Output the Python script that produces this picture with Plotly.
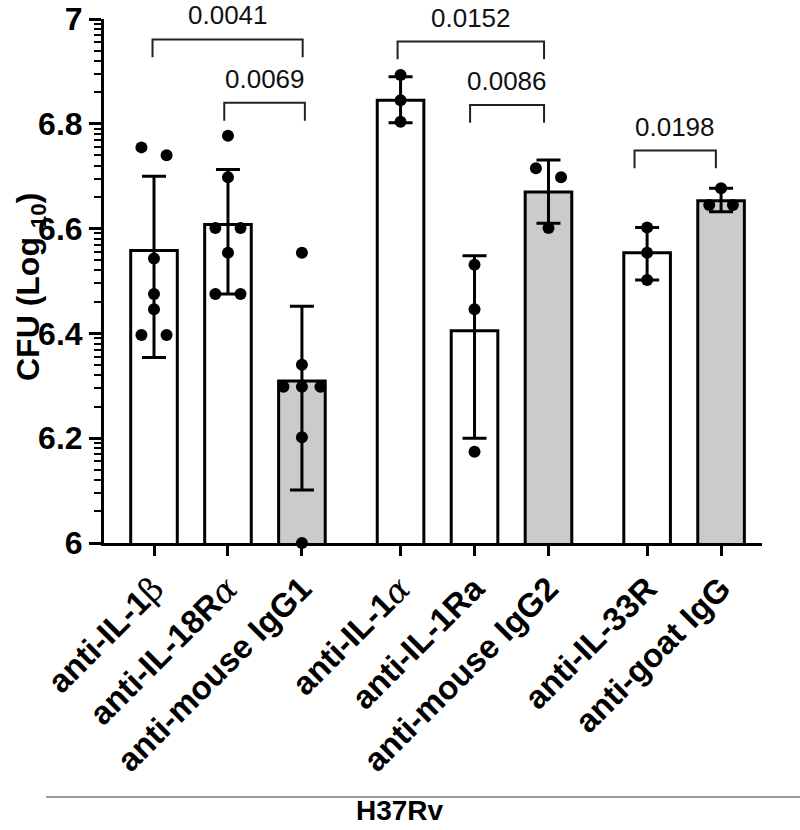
import math
import plotly.graph_objects as go

# ---------------- data ----------------
categories = ["anti-IL-1β", "anti-IL-18Rα", "anti-mouse IgG1",
              "anti-IL-1α", "anti-IL-1Ra", "anti-mouse IgG2",
              "anti-IL-33R", "anti-goat IgG"]
group_of = [0, 0, 0, 1, 1, 1, 2, 2]
control = [False, False, True, False, False, True, False, True]

bar_means = [6.558, 6.608, 6.309, 6.845, 6.405, 6.670, 6.554, 6.653]
err_upper = [6.700, 6.713, 6.452, 6.890, 6.548, 6.731, 6.602, 6.677]
err_lower = [6.354, 6.475, 6.101, 6.802, 6.200, 6.610, 6.502, 6.632]

points_1b = [6.755, 6.740, 6.543, 6.475, 6.446, 6.397, 6.397]
points_18r = [6.777, 6.698, 6.601, 6.601, 6.554, 6.475, 6.475]
points_igg1 = [6.554, 6.340, 6.298, 6.298, 6.298, 6.202, 6.000]
points_1a = [6.893, 6.845, 6.804]
points_1ra = [6.531, 6.446, 6.174]
points_igg2 = [6.715, 6.698, 6.601]
points_33r = [6.602, 6.554, 6.502]
points_goat = [6.677, 6.645, 6.645]
all_points = [points_1b, points_18r, points_igg1, points_1a,
              points_1ra, points_igg2, points_33r, points_goat]

jitter_1b = [-0.17, 0.17, 0, 0, 0, -0.17, 0.17]
jitter_18r = [0, 0, -0.17, 0.17, 0, -0.17, 0.17]
jitter_igg1 = [0, 0, -0.25, 0, 0.25, 0, 0]
jitter_1a = [0, 0, 0]
jitter_1ra = [0, 0, 0]
jitter_igg2 = [-0.17, 0.17, 0]
jitter_33r = [0, 0, 0]
jitter_goat = [0, -0.16, 0.16]
all_jitter = [jitter_1b, jitter_18r, jitter_igg1, jitter_1a,
              jitter_1ra, jitter_igg2, jitter_33r, jitter_goat]

# comparisons: (left index, right index, p-value text)
comparisons = [(0, 2, "0.0041"), (1, 2, "0.0069"), (3, 5, "0.0152"),
               (4, 5, "0.0086"), (6, 7, "0.0198")]

y_ticks = [6, 6.2, 6.4, 6.6, 6.8, 7]
y_tick_text = ["6", "6.2", "6.4", "6.6", "6.8", "7"]

# ---------------- layout helpers ----------------
GROUP_GAP = 1 / 3
pos = [i + g * GROUP_GAP for i, g in enumerate(group_of)]
bracket_y = [6.961, 6.840, 6.957, 6.836, 6.749]
bracket_leg = 0.034
bracket_dx = [(-0.02, 0.01), (-0.05, 0.04), (-0.04, -0.06), (-0.06, -0.06), (-0.17, -0.07)]

FONT = "Liberation Sans, Arial, sans-serif"

def fmt_label(s):
    s = s.replace("β", '<span style="font-family:\'DejaVu Serif\';font-weight:normal">β</span>')
    s = s.replace("α", '<span style="font-family:\'DejaVu Serif\';font-weight:normal;font-style:italic">α</span>')
    return s

fill = ["#cbcbcb" if c else "#ffffff" for c in control]

fig = go.Figure()
fig.add_trace(go.Bar(
    x=pos, y=bar_means, width=0.63,
    marker=dict(color=fill, line=dict(color="black", width=3)),
    error_y=dict(type="data", symmetric=False,
                 array=[u - m for u, m in zip(err_upper, bar_means)],
                 arrayminus=[m - l for m, l in zip(bar_means, err_lower)],
                 color="black", thickness=3, width=12),
    showlegend=False, hoverinfo="skip"))

px_, py_ = [], []
for i, (pts, jit) in enumerate(zip(all_points, all_jitter)):
    for v, j in zip(pts, jit):
        px_.append(pos[i] + j)
        py_.append(v)
fig.add_trace(go.Scatter(x=px_, y=py_, mode="markers",
                         marker=dict(color="black", size=12),
                         cliponaxis=False, showlegend=False, hoverinfo="skip"))

shapes = []
annotations = []
for (a, b, txt), yb, (da, db) in zip(comparisons, bracket_y, bracket_dx):
    xa, xb = pos[a] + da, pos[b] + db
    shapes.append(dict(type="path", xref="x", yref="y",
                       path=f"M {xa},{yb-bracket_leg} L {xa},{yb} L {xb},{yb} L {xb},{yb-bracket_leg}",
                       line=dict(color="#222", width=2)))
    annotations.append(dict(x=(xa + xb) / 2, y=yb, xref="x", yref="y",
                            text=txt, showarrow=False, xanchor="center",
                            yanchor="middle", yshift=24,
                            font=dict(family=FONT, size=26, color="#111")))

# minor ticks (log-style subdivisions as in the original axis)
minor_vals = []
for k in range(5):
    a = 6 + 0.2 * k
    for m in range(2, 10):
        minor_vals.append(a + 0.2 * math.log10(m))

annotations.append(dict(x=-0.1125, y=0.4885, xref="paper", yref="paper",
                        text="<b>CFU (Log <sub>10</sub>)</b>", textangle=-90,
                        xanchor="center", yanchor="middle",
                        showarrow=False, font=dict(family=FONT, size=32, color="black")))
annotations.append(dict(x=0.45, y=-0.5100, xref="paper", yref="paper",
                        text="<b>H37Rv</b>", showarrow=False,
                        xanchor="center", yanchor="middle",
                        font=dict(family=FONT, size=28, color="black")))
shapes.append(dict(type="line", xref="paper", yref="paper",
                   x0=-0.088, x1=1.058, y0=-0.4847, y1=-0.4847,
                   line=dict(color="#777", width=1.5)))

fig.update_layout(
    width=800, height=830,
    margin=dict(l=104, r=38, t=19, b=287, autoexpand=False),
    paper_bgcolor="white", plot_bgcolor="white",
    shapes=shapes, annotations=annotations,
    xaxis=dict(range=[-0.676, 8.22], tickvals=pos, automargin=False,
               ticktext=[f"<b>{fmt_label(c)}</b>" for c in categories],
               tickangle=-45, ticks="outside", ticklen=10, tickwidth=3,
               tickcolor="black", showline=True, linewidth=3, linecolor="black",
               showgrid=False, zeroline=False,
               tickfont=dict(family=FONT, size=33, color="black")),
    yaxis=dict(range=[6, 7], tickvals=y_ticks, automargin=False,
               ticktext=[f"<b>{t}</b>" for t in y_tick_text],
               ticks="outside", ticklen=12, tickwidth=3, tickcolor="black",
               showline=True, linewidth=3, linecolor="black",
               showgrid=False, zeroline=False,
               minor=dict(tickmode="array", tickvals=minor_vals, ticks="outside",
                          ticklen=7, tickwidth=2, tickcolor="black", showgrid=False),
               tickfont=dict(family=FONT, size=32, color="black")),
)

fig.write_html("out.html")
